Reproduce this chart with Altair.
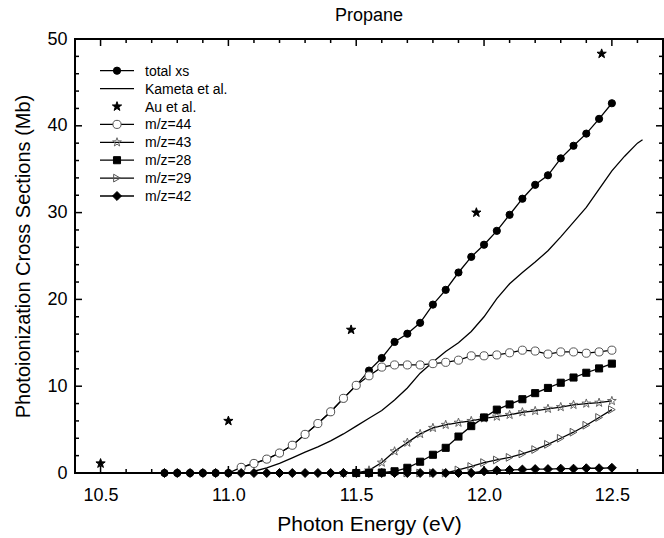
import altair as alt
import pandas as pd

# ---------------- data ----------------
energy = [10.75, 10.80, 10.85, 10.90, 10.95, 11.00, 11.05, 11.10, 11.15, 11.20,
          11.25, 11.30, 11.35, 11.40, 11.45, 11.50, 11.55, 11.60, 11.65, 11.70,
          11.75, 11.80, 11.85, 11.90, 11.95, 12.00, 12.05, 12.10, 12.15, 12.20,
          12.25, 12.30, 12.35, 12.40, 12.45, 12.50]

total_xs = [0, 0, 0, 0, 0, 0,
            0.65, 1.1, 1.6, 2.3, 3.2, 4.45, 5.7, 7.05, 8.6, 10.1,
            11.8, 13.25, 15.1, 16.05, 17.3, 19.4, 21.1, 23.1, 24.9, 26.3,
            27.9, 29.75, 31.6, 33.2, 34.3, 36.25, 37.7, 39.1, 40.8, 42.6]

energy_44 = energy[6:]
mz44 = [0.65, 1.1, 1.6, 2.3, 3.2, 4.45, 5.7, 7.05, 8.6, 10.1,
        11.2, 12.2, 12.45, 12.45, 12.45, 12.6, 12.75, 13.0, 13.5, 13.5,
        13.6, 13.85, 14.15, 14.05, 13.7, 13.95, 13.95, 13.8, 13.95, 14.15]

energy_43 = energy[14:]
mz43 = [0, 0, 0.3,
        1.2, 2.5, 3.5, 4.5, 5.2, 5.55, 5.8, 6.0, 6.3, 6.5,
        6.7, 7.0, 7.15, 7.4, 7.6, 7.85, 8.0, 8.1, 8.3]

energy_28 = energy[15:]
mz28 = [0, 0, 0.05, 0.2, 0.6, 1.3, 2.1, 2.9, 4.2, 5.4, 6.4, 7.3,
        7.9, 8.5, 9.2, 9.8, 10.4, 11.0, 11.55, 12.05, 12.6]

energy_29 = energy[19:]
mz29 = [0, 0, 0, 0, 0.35, 0.75, 1.2, 1.5, 1.8, 2.2, 2.7, 3.3, 4.0, 4.7, 5.5, 6.4, 7.3]

mz42 = [0] * 25 + [0.2, 0.3, 0.35, 0.4, 0.45, 0.45, 0.5, 0.5, 0.55, 0.55, 0.6]

kameta_e = [11.10, 11.15, 11.20, 11.25, 11.30, 11.35, 11.40, 11.45, 11.50, 11.55,
            11.60, 11.65, 11.70, 11.75, 11.80, 11.85, 11.90, 11.95, 12.00, 12.05,
            12.10, 12.15, 12.20, 12.25, 12.30, 12.35, 12.40, 12.45, 12.50, 12.55,
            12.60, 12.62]
kameta_v = [0.2, 0.6, 1.1, 1.75, 2.4, 3.0, 3.7, 4.5, 5.4, 6.3,
            7.2, 8.4, 9.8, 11.5, 12.8, 14.0, 15.0, 16.3, 18.0, 20.1,
            21.8, 23.1, 24.3, 25.6, 27.2, 28.9, 30.6, 32.7, 34.8, 36.5,
            38.0, 38.4]

au_e = [10.5, 11.0, 11.48, 11.97, 12.46]
au_v = [1.1, 6.0, 16.5, 30.0, 48.3]

x_major = [10.5, 11.0, 11.5, 12.0, 12.5]
x_minor = [10.6, 10.7, 10.8, 10.9, 11.1, 11.2, 11.3, 11.4, 11.6, 11.7, 11.8, 11.9,
           12.1, 12.2, 12.3, 12.4, 12.6]
y_major = [0, 10, 20, 30, 40, 50]
y_minor = [2, 4, 6, 8, 12, 14, 16, 18, 22, 24, 26, 28, 32, 34, 36, 38, 42, 44, 46, 48]

legend_labels = ["total xs", "Kameta et al.", "Au et al.", "m/z=44", "m/z=43",
                 "m/z=28", "m/z=29", "m/z=42"]

# ---------------- styling ----------------
FONT = "Liberation Sans"
W, H = 588, 434
STAR = ("M0,-1L0.235,-0.324L0.951,-0.309L0.380,0.124L0.588,0.809L0,0.4"
        "L-0.588,0.809L-0.380,0.124L-0.951,-0.309L-0.235,-0.324Z")

xs = alt.Scale(domain=[10.4, 12.7], nice=False, zero=False)
ys = alt.Scale(domain=[0, 50], nice=False, zero=False)

XAX = alt.Axis(values=x_major, format=".1f", ticks=False, tickSize=0, domain=False,
               grid=False, labelFontSize=18, labelFont=FONT, labelColor="black",
               labelPadding=13, title="Photon Energy (eV)", titleFont=FONT,
               titleFontSize=21, titleFontWeight="normal", titleColor="black",
               titlePadding=9)
YAX = alt.Axis(values=y_major, format="d", ticks=False, tickSize=0, domain=False,
               grid=False, labelFontSize=18, labelFont=FONT, labelColor="black",
               labelPadding=8, title="Photoionization Cross Sections (Mb)",
               titleFont=FONT, titleFontSize=20, titleFontWeight="normal",
               titleColor="black", titlePadding=13)

styles = {
    "total xs": dict(shape="circle", size=52, fill="black", stroke="black", line=True),
    "Kameta et al.": dict(shape=None, line=True),
    "Au et al.": dict(shape=STAR, size=95, fill="black", stroke="black", line=False),
    "m/z=44": dict(shape="circle", size=66, fill="white", stroke="#555555", line=True),
    "m/z=43": dict(shape=STAR, size=85, fill="transparent", stroke="#666666", line=True),
    "m/z=28": dict(shape="square", size=50, fill="black", stroke="black", line=True),
    "m/z=29": dict(shape="triangle-right", size=60, fill="transparent", stroke="#555555", line=True),
    "m/z=42": dict(shape="diamond", size=80, fill="black", stroke="black", line=True),
}


def X(field):
    return alt.X(field, scale=xs, axis=XAX)


def Y(field):
    return alt.Y(field, scale=ys, axis=YAX)


def series(e, v, name):
    df = pd.DataFrame({"E": e, "v": v})
    base = alt.Chart(df).encode(x=X("E:Q"), y=Y("v:Q"))
    st = styles[name]
    layers = []
    if st["line"]:
        layers.append(base.mark_line(color="black", strokeWidth=1.3))
    if st["shape"] is not None:
        layers.append(base.mark_point(shape=st["shape"], size=st["size"], filled=True,
                                      fill=st["fill"], stroke=st["stroke"],
                                      strokeWidth=1, opacity=1))
    return layers


def ticks():
    L_major, L_minor = 7, 4
    out = []
    for vals, L in ((x_major, L_major), (x_minor, L_minor)):
        d = pd.DataFrame({"t": vals})
        b = alt.Chart(d).mark_rule(color="black", strokeWidth=1.5)
        out.append(b.encode(x=X("t:Q"), y=alt.value(H), y2=alt.value(H - L)))
        out.append(b.encode(x=X("t:Q"), y=alt.value(0), y2=alt.value(L)))
    for vals, L in ((y_major, L_major), (y_minor, L_minor)):
        d = pd.DataFrame({"t": vals})
        b = alt.Chart(d).mark_rule(color="black", strokeWidth=1.5)
        out.append(b.encode(y=Y("t:Q"), x=alt.value(0), x2=alt.value(L)))
        out.append(b.encode(y=Y("t:Q"), x=alt.value(W), x2=alt.value(W - L)))
    return out


def legend():
    out = []
    y0, dy = 31.7, 17.9
    for i, name in enumerate(legend_labels):
        ry = y0 + i * dy
        st = styles[name]
        d = pd.DataFrame({"label": [name]})
        b = alt.Chart(d)
        if st["line"]:
            out.append(b.mark_rule(color="black", strokeWidth=1.3).encode(
                x=alt.value(25), x2=alt.value(59), y=alt.value(ry)))
        if st["shape"] is not None:
            out.append(b.mark_point(shape=st["shape"], size=st["size"], filled=True,
                                    fill=st["fill"], stroke=st["stroke"], strokeWidth=1,
                                    opacity=1).encode(x=alt.value(42), y=alt.value(ry)))
        out.append(b.mark_text(align="left", baseline="middle", font=FONT, fontSize=14,
                               color="black").encode(
            x=alt.value(70), y=alt.value(ry + 1), text="label:N"))
    return out


tot = series(energy, total_xs, "total xs")
layers = []
layers += tot[:1]
layers += series(kameta_e, kameta_v, "Kameta et al.")
layers += series(energy_29, mz29, "m/z=29")
layers += series(energy_43, mz43, "m/z=43")
layers += series(energy_28, mz28, "m/z=28")
layers += tot[1:]
layers += series(energy_44, mz44, "m/z=44")
layers += series(energy, mz42, "m/z=42")
layers += series(au_e, au_v, "Au et al.")
layers += ticks()
layers += legend()

chart = alt.layer(*layers).properties(
    width=W, height=H,
    background="white",
    title=alt.TitleParams("Propane", font=FONT, fontSize=18, fontWeight="normal",
                          color="black", anchor="middle", offset=5),
    autosize=alt.AutoSizeParams(type="none"),
    padding={"left": 75, "top": 39, "right": 1, "bottom": 65},
).configure_view(stroke="black", strokeWidth=2)

chart.save("out.html", embed_options={"renderer": "svg", "actions": False})
